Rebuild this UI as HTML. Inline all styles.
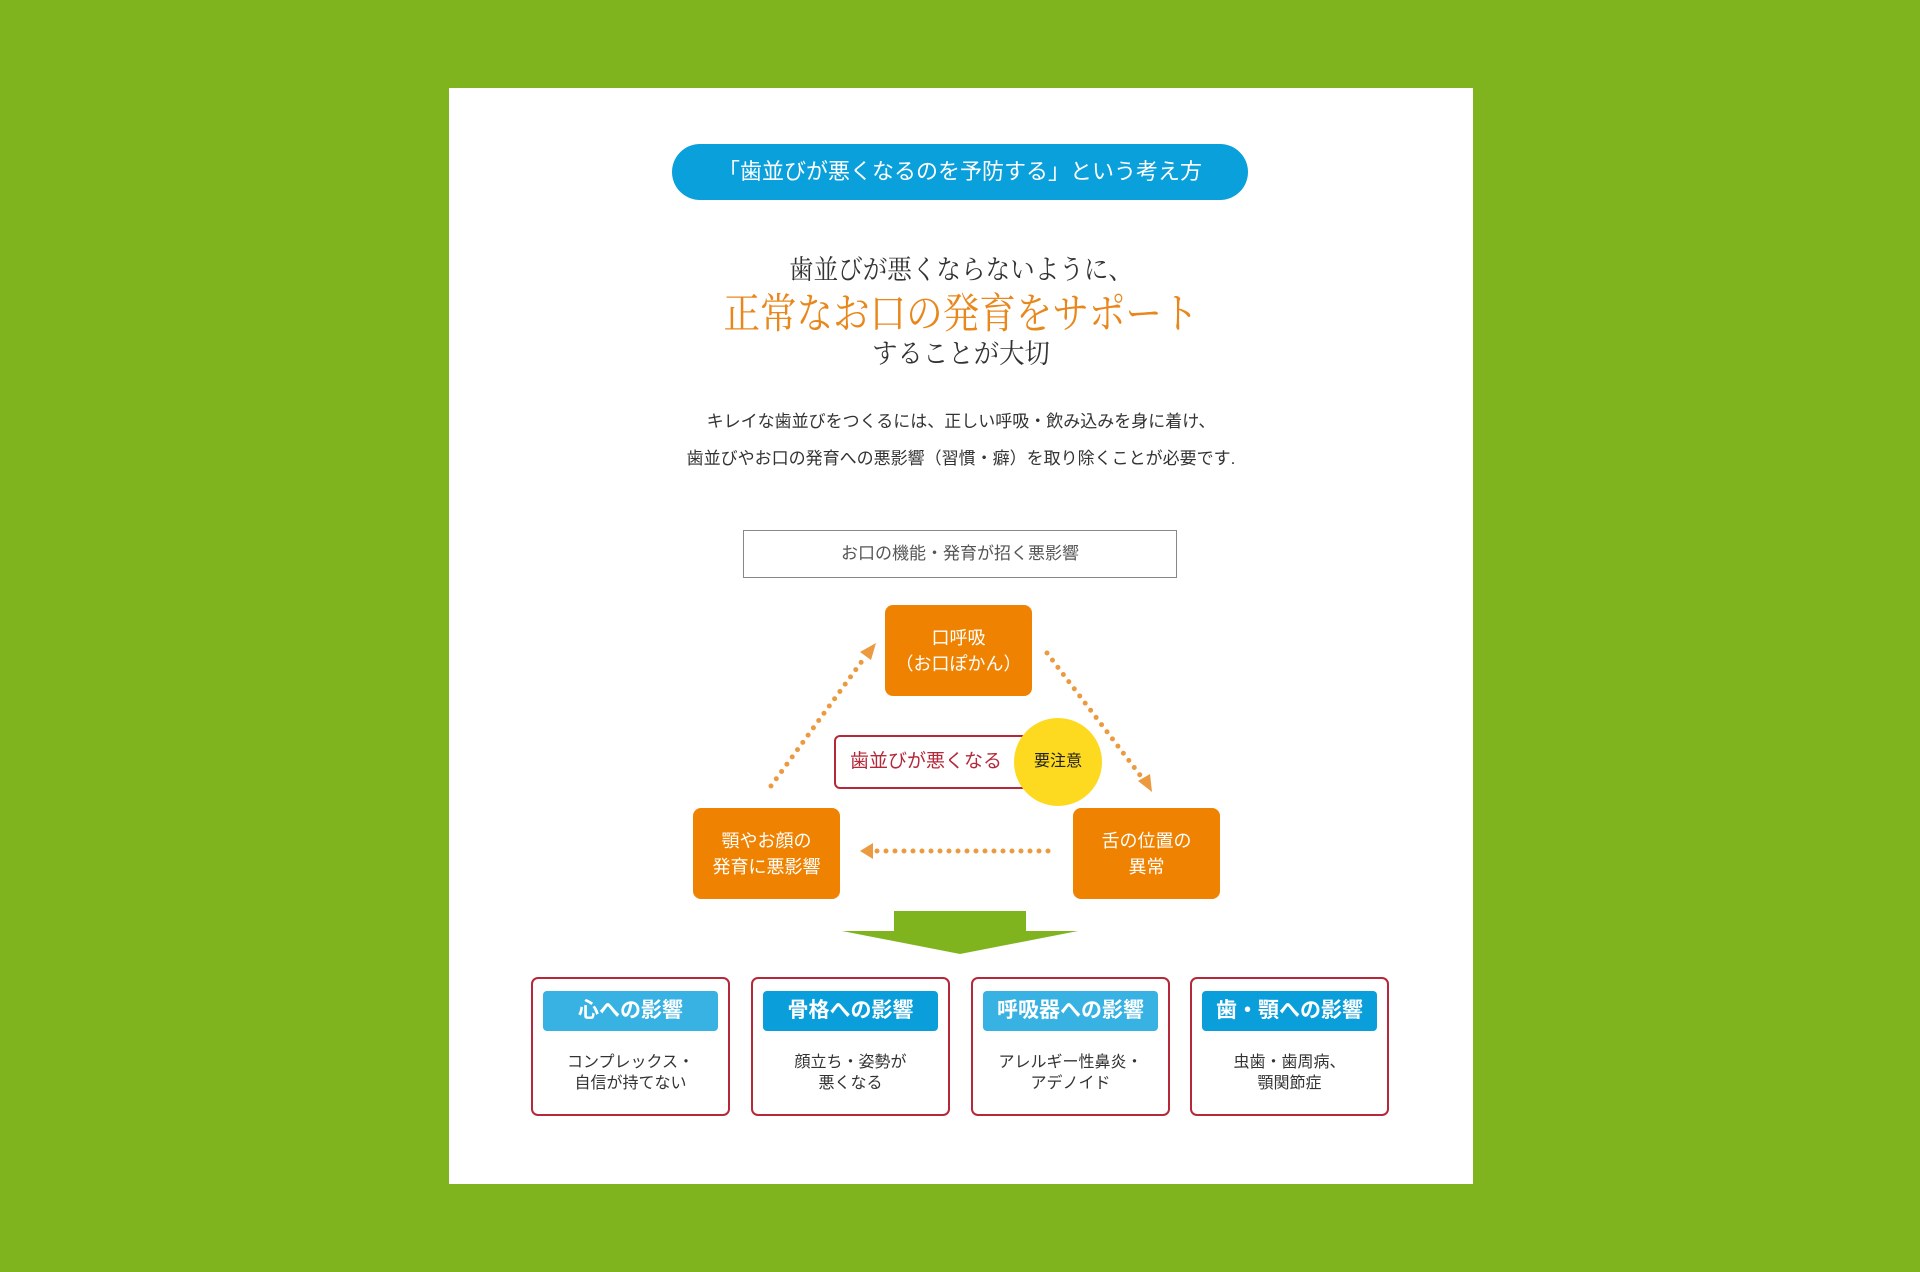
<!DOCTYPE html>
<html><head><meta charset="utf-8"><style>
body{margin:0;width:1920px;height:1272px;background:#80b41f;position:relative;overflow:hidden;font-family:"Liberation Sans","Noto Sans CJK JP",sans-serif;}
.a{position:absolute;}
.c{text-align:center;}
.panel{left:449px;top:88px;width:1024px;height:1096px;background:#fff;}
.pill{left:672px;top:144px;width:576px;height:56px;border-radius:28px;background:#0aa0dc;color:#fff;font-size:22px;line-height:56px;}
.ser{font-family:"Liberation Serif","Noto Serif CJK SC",serif;color:#333;}
.ob{background:#ef8200;border-radius:8px;color:#fff;font-size:18px;line-height:26px;display:flex;align-items:center;justify-content:center;text-align:center;}
.bx{border:2px solid #b5283a;border-radius:7px;box-sizing:border-box;height:139px;top:977px;width:199px;}
.hd{position:absolute;left:10px;right:10px;top:12px;height:40px;border-radius:4px;color:#fff;font-weight:bold;font-size:21px;line-height:40px;text-align:center;}
.bd{position:absolute;left:0;right:0;top:73px;text-align:center;font-size:16px;line-height:21px;color:#333;}
</style></head><body>
<div class="a panel"></div>
<div class="a pill c">「歯並びが悪くなるのを予防する」という考え方</div>
<div class="a c ser" style="left:449px;width:1024px;top:252px;font-size:27px;line-height:36px;transform:scaleX(0.91);">歯並びが悪くならないように、</div>
<div class="a c ser" style="left:449px;width:1024px;top:289px;font-size:42px;line-height:52px;color:#e8871c;transform:scaleX(0.87);">正常なお口の発育をサポート</div>
<div class="a c ser" style="left:449px;width:1024px;top:336px;font-size:27px;line-height:36px;transform:scaleX(0.94);">することが大切</div>
<div class="a c" style="left:449px;width:1024px;top:403px;font-size:17px;line-height:37px;color:#333;">キレイな歯並びをつくるには、正しい呼吸・飲み込みを身に着け、<br>歯並びやお口の発育への悪影響（習慣・癖）を取り除くことが必要です.</div>
<div class="a c" style="left:743px;top:530px;width:434px;height:48px;box-sizing:border-box;border:1px solid #888;font-size:17px;line-height:46px;color:#555;">お口の機能・発育が招く悪影響</div>
<svg class="a" style="left:0;top:0" width="1920" height="1272">
<g stroke="#eb9a3f" stroke-width="5" stroke-linecap="round" stroke-dasharray="0 9" fill="none">
<line x1="771" y1="786" x2="865" y2="657"/>
<line x1="1047" y1="653" x2="1143" y2="779"/>
<line x1="1048" y1="851" x2="872" y2="851"/>
</g>
<g fill="#eb9a3f">
<polygon points="876,643 860,652 871,660"/>
<polygon points="1152,792 1138,781 1150,774"/>
<polygon points="860,851 873,843 873,859"/>
</g>
<rect x="894" y="911" width="132" height="21" fill="#80b41f"/>
<polygon points="842,931 1078,931 960,954" fill="#80b41f"/>
</svg>
<div class="a ob" style="left:885px;top:605px;width:147px;height:91px;">口呼吸<br>（お口ぽかん）</div>
<div class="a ob" style="left:693px;top:808px;width:147px;height:91px;">顎やお顔の<br>発育に悪影響</div>
<div class="a ob" style="left:1073px;top:808px;width:147px;height:91px;">舌の位置の<br>異常</div>
<div class="a" style="left:834px;top:735px;width:194px;height:54px;box-sizing:border-box;border:2px solid #b5283a;border-radius:6px;background:#fff;color:#b5283a;font-size:19px;line-height:50px;padding-left:14px;">歯並びが悪くなる</div>
<div class="a c" style="left:1014px;top:718px;width:88px;height:88px;border-radius:50%;background:#fdd920;font-size:16px;line-height:88px;color:#222;">要注意</div>
<div class="a bx" style="left:531px;"><div class="hd" style="background:#38b2e3">心への影響</div><div class="bd">コンプレックス・<br>自信が持てない</div></div>
<div class="a bx" style="left:751px;"><div class="hd" style="background:#0a9fdb">骨格への影響</div><div class="bd">顔立ち・姿勢が<br>悪くなる</div></div>
<div class="a bx" style="left:971px;"><div class="hd" style="background:#38b2e3">呼吸器への影響</div><div class="bd">アレルギー性鼻炎・<br>アデノイド</div></div>
<div class="a bx" style="left:1190px;"><div class="hd" style="background:#0a9fdb">歯・顎への影響</div><div class="bd">虫歯・歯周病、<br>顎関節症</div></div>
</body></html>
